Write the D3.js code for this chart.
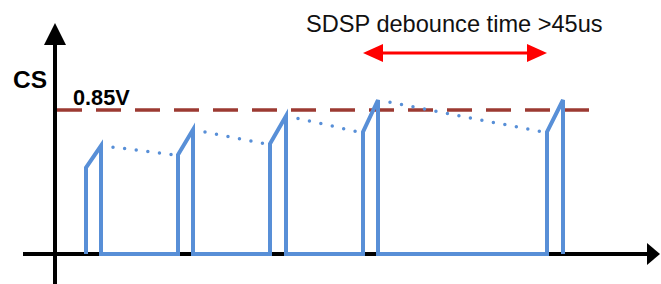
<!DOCTYPE html>
<html>
<head>
<meta charset="utf-8">
<script src="https://cdn.jsdelivr.net/npm/d3@7"></script>
<style>
  html, body { margin: 0; padding: 0; background: #fff; }
  svg { display: block; font-family: "Liberation Sans", Arial, sans-serif; }
</style>
</head>
<body>
<div id="svg"></div>
<script>
// pulse data (time in us, voltage in V)
var riseT = [7.75, 30.75, 53.75, 77, 123];
var fallT = [11.5, 34.5, 57.75, 80.75, 127];
var startV = [0.51, 0.586, 0.651, 0.721, 0.721];
var peakV = [0.639, 0.733, 0.815, 0.909, 0.909];
var thresholdV = 0.85;
var thresholdLabel = "0.85V";
var yLabel = "CS";
var debounce = [77, 123];
var debounceLabel = "SDSP debounce time >45us";

var width = 661,
    height = 284;

var blue = "#588fd7",
    darkRed = "#9c3a32",
    red = "#ff0000";

var x = d3.scaleLinear()
    .domain([0, 100])
    .range([55, 455]);

var y = d3.scaleLinear()
    .domain([0, thresholdV])
    .range([254, 110]);

var svg = d3.select("#svg").append("svg")
    .attr("width", width)
    .attr("height", height);

// axes
var x0 = x(0), y0 = y(0);
svg.append("line")
    .attr("x1", x0).attr("x2", x0)
    .attr("y1", height).attr("y2", 42)
    .attr("stroke", "#000").attr("stroke-width", 4);
svg.append("path")
    .attr("d", "M" + x0 + ",23L" + (x0 - 11) + ",45L" + (x0 + 11) + ",45Z")
    .attr("fill", "#000");

svg.append("line")
    .attr("x1", 23).attr("x2", 650)
    .attr("y1", y0).attr("y2", y0)
    .attr("stroke", "#000").attr("stroke-width", 4);
svg.append("path")
    .attr("d", "M660," + y0 + "L647," + (y0 - 11) + "L647," + (y0 + 11) + "Z")
    .attr("fill", "#000");

// threshold
svg.append("line")
    .attr("x1", x0 + 2).attr("x2", 589)
    .attr("y1", y(thresholdV)).attr("y2", y(thresholdV))
    .attr("stroke", darkRed).attr("stroke-width", 3.5)
    .attr("stroke-dasharray", "25,14");

svg.append("text")
    .attr("x", 73).attr("y", 105)
    .attr("font-weight", "bold")
    .attr("font-size", 21.7)
    .text(thresholdLabel);

svg.append("text")
    .attr("x", 13).attr("y", 88)
    .attr("font-weight", "bold")
    .attr("font-size", 24.5)
    .text(yLabel);

// dotted decay between pulses
for (var i = 0; i < riseT.length - 1; i++) {
    svg.append("line")
        .attr("x1", x(fallT[i]) + 12).attr("y1", y(peakV[i]) + (y(startV[i + 1]) - y(peakV[i])) * 12 / (x(riseT[i + 1]) - x(fallT[i])))
        .attr("x2", x(riseT[i + 1]) - 5).attr("y2", y(startV[i + 1]))
        .attr("stroke", blue).attr("stroke-width", 3.5)
        .attr("stroke-linecap", "round")
        .attr("stroke-dasharray", "0,11.7");
}

// pulse train
var pts = [];
for (var i = 0; i < riseT.length; i++) {
    pts.push([x(riseT[i]), y(0)]);
    pts.push([x(riseT[i]), y(startV[i])]);
    pts.push([x(fallT[i]), y(peakV[i])]);
    pts.push([x(fallT[i]), y(0)]);
}
svg.append("path")
    .attr("d", d3.line()(pts))
    .attr("fill", "none")
    .attr("stroke", blue)
    .attr("stroke-width", 4)
    .attr("stroke-linejoin", "miter");

// debounce arrow
var ay = 53;
svg.append("line")
    .attr("x1", x(debounce[0]) + 15).attr("x2", x(debounce[1]) - 15)
    .attr("y1", ay).attr("y2", ay)
    .attr("stroke", red).attr("stroke-width", 3);
svg.append("path")
    .attr("d", "M" + x(debounce[0]) + "," + ay + "L" + (x(debounce[0]) + 20) + "," + (ay - 9) + "L" + (x(debounce[0]) + 20) + "," + (ay + 9) + "Z")
    .attr("fill", red);
svg.append("path")
    .attr("d", "M" + x(debounce[1]) + "," + ay + "L" + (x(debounce[1]) - 20) + "," + (ay - 9) + "L" + (x(debounce[1]) - 20) + "," + (ay + 9) + "Z")
    .attr("fill", red);

svg.append("text")
    .attr("x", 306).attr("y", 32)
    .attr("font-size", 23.6)
    .attr("fill", "#111")
    .text(debounceLabel);
</script>
</body>
</html>
